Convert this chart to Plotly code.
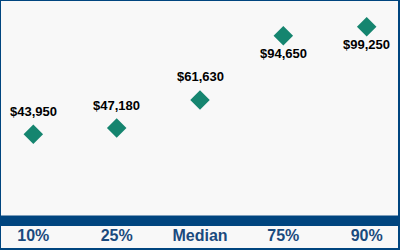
import plotly.graph_objects as go

categories = ["10%", "25%", "Median", "75%", "90%"]
values = [43950, 47180, 61630, 94650, 99250]
labels = ["$43,950", "$47,180", "$61,630", "$94,650", "$99,250"]
label_above = [True, True, True, False, False]

W, H = 400, 250
mt, mb = 0, 34
PH = H - mt - mb  # plot height in px

NAVY = "#00457f"
TEAL = "#15856f"
BG = "#f8f8f8"

fig = go.Figure()
fig.add_trace(go.Scatter(
    x=categories, y=values, mode="markers",
    marker=dict(symbol="diamond", size=15, color=TEAL, line=dict(width=0)),
    hoverinfo="skip", showlegend=False,
))

for c, v, t, up in zip(categories, values, labels, label_above):
    fig.add_annotation(
        x=c, y=v, text="<b>%s</b>" % t, showarrow=False,
        yshift=23 if up else -18,
        font=dict(family="Liberation Sans, Arial, sans-serif", size=13, color="#000000"),
    )

def py(p):
    return (PH - p) / PH

shapes = [
    # thick bar under plot
    dict(type="rect", xref="paper", yref="paper", x0=0, x1=1,
         y0=py(226), y1=py(215.5), fillcolor=NAVY, line=dict(width=0), layer="above"),
    # outer border
    dict(type="rect", xref="paper", yref="paper", x0=0, x1=399 / W,
         y0=py(249), y1=1, line=dict(color=NAVY, width=2), fillcolor="rgba(0,0,0,0)",
         layer="above"),
]

fig.update_layout(
    width=W, height=H,
    margin=dict(l=0, r=0, t=mt, b=mb, pad=0),
    paper_bgcolor=BG, plot_bgcolor=BG,
    shapes=shapes,
    xaxis=dict(
        type="category", range=[-0.4, 4.4], showgrid=False, zeroline=False,
        showline=False, ticks="", fixedrange=True, ticklabelstandoff=8,
        tickfont=dict(family="Liberation Sans, Arial, sans-serif", size=16, color="#1a4a7e"),
    ),
    yaxis=dict(
        range=[1966, 112963], showgrid=False, zeroline=False, showline=False,
        showticklabels=False, ticks="", fixedrange=True,
    ),
)
fig.update_xaxes(tickprefix="<b>", ticksuffix="</b>")

fig.write_html("out.html", config={"displayModeBar": False})
